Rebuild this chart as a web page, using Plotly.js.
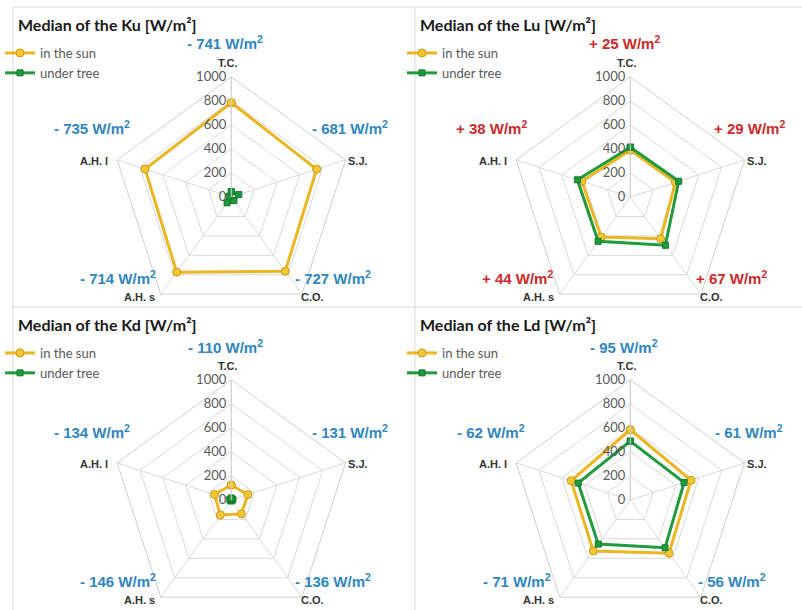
<!DOCTYPE html>
<html><head><meta charset="utf-8">
<script src="https://cdn.plot.ly/plotly-3.0.1.min.js"></script>
<style>html,body{margin:0;padding:0;overflow:hidden;background:#fff}#wrap{width:802px;height:610px;overflow:hidden}</style>
</head><body><div id="wrap"><div id="chart"></div></div>
<script>
// ---- data ----
const categories = ["T.C.", "S.J.", "C.O.", "A.H. s", "A.H. l"];
const seriesNames = ["in the sun", "under tree"];
const radialTicks = [0, 200, 400, 600, 800, 1000];

const kuSun  = [785, 747, 764, 774, 755];
const kuTree = [44, 66, 37, 60, 20];
const kuDiff = [-741, -681, -727, -714, -735];

const luSun  = [390, 395, 430, 412, 425];
const luTree = [415, 424, 497, 456, 463];
const luDiff = [25, 29, 67, 44, 38];

const kdSun  = [125, 145, 143, 155, 147];
const kdTree = [15, 14, 7, 9, 13];
const kdDiff = [-110, -131, -136, -146, -134];

const ldSun  = [585, 532, 548, 525, 518];
const ldTree = [490, 471, 492, 454, 456];
const ldDiff = [-95, -61, -56, -71, -62];

const titles = ["Median of the Ku [W/m²]", "Median of the Lu [W/m²]", "Median of the Kd [W/m²]", "Median of the Ld [W/m²]"];

// ---- layout helpers ----
const W = 802, H = 622, R = 121;
const px = x => x / W;
const py = y => 1 - y / H;
const panels = [
  {sun: kuSun, tree: kuTree, diff: kuDiff, cx: 227, cy: 197, left: 7,   top: 7},
  {sun: luSun, tree: luTree, diff: luDiff, cx: 629, cy: 197, left: 412, top: 7},
  {sun: kdSun, tree: kdTree, diff: kdDiff, cx: 227, cy: 500, left: 7,   top: 307},
  {sun: ldSun, tree: ldTree, diff: ldDiff, cx: 629, cy: 500, left: 412, top: 307}
];
// difference-label offsets from polar center, per category
const diffOffsets = [[-6, -154], [120, -69], [102, 80], [-114, 80], [-140, -69]];
// category-label placement relative to each spoke end
const catPlace = [[-3, -13, 'center'], [0, 1, 'left'], [-3, 2, 'left'], [-4, 2, 'right'], [-7, 1, 'right']];

const close = a => a.concat([a[0]]);
const data = [];
const annotations = [];
const layout = {
  width: W, height: H,
  margin: {l: 0, r: 0, t: 0, b: 0},
  paper_bgcolor: '#ffffff',
  showlegend: true,
  font: {family: 'Lato, Liberation Sans, sans-serif', color: '#404040'},
  shapes: [
    {type: 'line', xref: 'paper', yref: 'paper', x0: px(7), x1: 1, y0: py(7), y1: py(7), line: {color: '#d9d9d9', width: 1}},
    {type: 'line', xref: 'paper', yref: 'paper', x0: px(7), x1: px(7), y0: py(7), y1: 0, line: {color: '#d9d9d9', width: 1}},
    {type: 'line', xref: 'paper', yref: 'paper', x0: px(412), x1: px(412), y0: py(7), y1: 0, line: {color: '#d9d9d9', width: 1}},
    {type: 'line', xref: 'paper', yref: 'paper', x0: px(7), x1: 1, y0: py(307), y1: py(307), line: {color: '#d9d9d9', width: 1}}
  ],
  annotations: annotations
};

panels.forEach((p, i) => {
  const k = i === 0 ? '' : String(i + 1);
  const sub = 'polar' + k;
  const leg = 'legend' + k;
  data.push({
    type: 'scatterpolar', subplot: sub, legend: leg, legendgroup: 's' + i,
    name: seriesNames[0], r: close(p.sun), theta: close(categories),
    mode: 'lines+markers', cliponaxis: false,
    line: {color: '#EBB622', width: 3},
    marker: {symbol: 'circle', size: 8, color: '#F6C735', line: {color: '#C99A12', width: 1}}
  });
  data.push({
    type: 'scatterpolar', subplot: sub, legend: leg, legendgroup: 't' + i,
    name: seriesNames[1], r: close(p.tree), theta: close(categories),
    mode: 'lines+markers', cliponaxis: false,
    line: {color: '#1F9B3D', width: 3},
    marker: {symbol: 'square', size: 6, color: '#1F9B3D', line: {color: '#15782c', width: 1}}
  });
  layout[sub] = {
    domain: {x: [px(p.cx - R), px(p.cx + R)], y: [Math.max(0, py(p.cy + R)), py(p.cy - R)]},
    bgcolor: 'rgba(0,0,0,0)',
    gridshape: 'linear',
    radialaxis: {
      range: [0, 1000], tickmode: 'array', tickvals: radialTicks,
      angle: 90, tickangle: 90, side: 'counterclockwise', ticklabelstandoff: -12,
      showline: true, linecolor: '#cfcfcf', gridcolor: '#d9d9d9', ticks: '',
      tickfont: {size: 13, color: '#595959', family: 'Lato, sans-serif'}
    },
    angularaxis: {
      type: 'category', categoryarray: categories, direction: 'clockwise', rotation: 90,
      linecolor: '#cfcfcf', gridcolor: '#d9d9d9', ticks: '', showticklabels: false
    }
  };
  layout[leg] = {
    x: px(p.left - 13), y: py(p.top + 31), xanchor: 'left', yanchor: 'top',
    bgcolor: 'rgba(0,0,0,0)', tracegroupgap: 0,
    font: {size: 13, color: '#595959', family: 'Lato, sans-serif'}
  };
  annotations.push({
    xref: 'paper', yref: 'paper', x: px(p.left + 3), y: py(p.top + 17),
    xanchor: 'left', yanchor: 'middle', showarrow: false,
    text: titles[i],
    font: {size: 16, color: '#1a1a1a', family: 'Lato, sans-serif', weight: 'bold'}
  });
  categories.forEach((c, j) => {
    const a = j * 72 * Math.PI / 180;
    const vx = p.cx + R * Math.sin(a), vy = p.cy - R * Math.cos(a);
    const cp = catPlace[j];
    annotations.push({
      xref: 'paper', yref: 'paper', x: px(vx + cp[0]), y: py(vy + cp[1]),
      xanchor: cp[2], yanchor: 'middle', showarrow: false, text: c,
      font: {size: 11, color: '#333333', family: 'Liberation Sans, sans-serif', weight: 'bold'}
    });
  });
  p.diff.forEach((d, j) => {
    const o = diffOffsets[j];
    annotations.push({
      xref: 'paper', yref: 'paper', x: px(p.cx + o[0]), y: py(p.cy + o[1]),
      xanchor: 'center', yanchor: 'middle', showarrow: false,
      text: (d < 0 ? '- ' : '+ ') + Math.abs(d) + ' W/m<sup>2</sup>',
      font: {size: 15, color: d < 0 ? '#2F86BF' : '#CC2A2A', family: 'Liberation Sans, sans-serif', weight: 'bold'}
    });
  });
});

Plotly.newPlot('chart', data, layout, {displayModeBar: false, staticPlot: true});
</script>
</body></html>
